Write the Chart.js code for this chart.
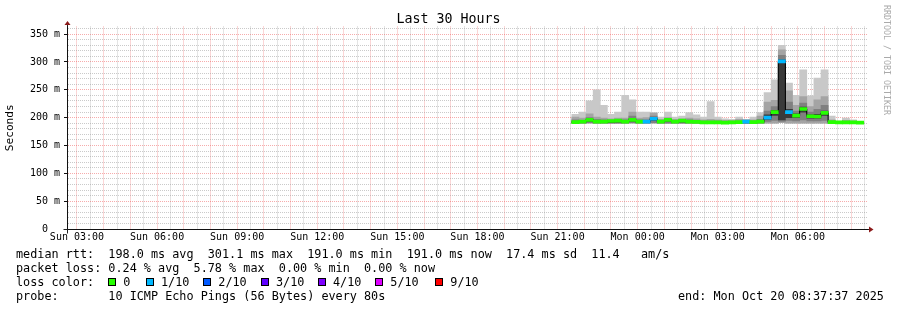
<!DOCTYPE html>
<html>
<head>
<meta charset="utf-8">
<script src="https://cdn.jsdelivr.net/npm/chart.js@4.4.1/dist/chart.umd.min.js"></script>
<style>
  body { margin: 0; background: #fff; }
  #wrap { position: relative; width: 897px; height: 310px; font-family: 'DejaVu Sans Mono', monospace; color: #000; overflow: hidden; }
  #chart { position: absolute; left: 0; top: 0; }
  .title { position: absolute; left: 0; top: 11.4px; width: 897px; text-align: center; font-size: 13.3px; line-height: 16px; }
  .mark { position: absolute; left: 883px; top: 5px; font-size: 8.3px; line-height: 8px; color: #aaa; writing-mode: vertical-rl; white-space: pre; }
  .row { position: absolute; font-size: 11.8px; line-height: 14px; white-space: pre; }
  .sq { position: absolute; top: 278px; width: 6px; height: 6px; border: 1px solid #000; }
</style>
</head>
<body>
<div id="wrap">
  <canvas id="chart" width="897" height="310"></canvas>
  <div class="title">Last 30 Hours</div>
  <div class="mark">RRDTOOL / TOBI OETIKER</div>
  <div class="row" style="left:16px;top:247.4px">median rtt:  198.0 ms avg  301.1 ms max  191.0 ms min  191.0 ms now  17.4 ms sd  11.4   am/s</div>
  <div class="row" style="left:16px;top:261.4px">packet loss: 0.24 % avg  5.78 % max  0.00 % min  0.00 % now</div>
  <div class="row" style="left:16px;top:275.4px">loss color:</div>
  <div id="lossLegend"></div>
  <div class="row" style="left:16px;top:289.4px">probe:       10 ICMP Echo Pings (56 Bytes) every 80s</div>
  <div class="row" style="left:678px;top:289.4px">end: Mon Oct 20 08:37:37 2025</div>
</div>
<script>
// time window (hours counted from Sun 00:00)
const X_MIN = 'Sun 02:37:37';
const X_MAX = 'Mon 08:37:37';
const STEP_MIN = 16;

// start of each consolidated step
const barTimes = ['Sun 21:32','Sun 21:48','Sun 22:04','Sun 22:20','Sun 22:36','Sun 22:52','Sun 23:08','Sun 23:24','Sun 23:40','Sun 23:56',
  'Mon 00:12','Mon 00:28','Mon 00:44','Mon 01:00','Mon 01:16','Mon 01:32','Mon 01:48','Mon 02:04','Mon 02:20','Mon 02:36',
  'Mon 02:52','Mon 03:08','Mon 03:24','Mon 03:40','Mon 03:56','Mon 04:12','Mon 04:28','Mon 04:44','Mon 05:00','Mon 05:16',
  'Mon 05:32','Mon 05:48','Mon 06:04','Mon 06:20','Mon 06:36','Mon 06:52','Mon 07:08','Mon 07:24','Mon 07:40','Mon 07:56','Mon 08:12'];

// smoke (ms): four bands from lightest (outer) to darkest (inner)
const smokeLow = [190,190,190,190,190,190,190,190,190,190, 190,190,190,190,190,190,190,190,189,189,
  189,189,189,189,189,189,190,190,190,191, 190,190,190,190,190,190,189,190,189,189,190];
const smokeTop1 = [206,210,230,250,222,206,210,240,232,210, 210,209,201,210,201,203,209,205,201,229,
  201,198,197,201,197,201,209,245,268,330, 262,240,286,239,271,286,203,194,199,196,193];
const smokeTop2 = [201,199,207,201,199,198,199,199,210,199, 200,208,197,200,197,198,199,198,196,197,
  196,195,195,197,196,196,203,228,231,322, 248,222,238,220,232,238,196,193,195,194,192];
const smokeLow3 = [190,190,191,190,190,190,190,190,191,190, 190,191,190,190,190,190,190,190,189,189,
  189,189,189,189,189,189,190,193,195,193, 195,194,196,194,194,195,189,190,189,189,190];
const smokeTop3 = [196,195,200,197,196,195,196,196,203,196, 196,203,195,197,195,196,196,195,194,194,
  194,193,193,194,194,194,197,212,220,312, 228,212,226,210,215,222,194,192,193,193,192];
const smokeLow4 = [191,191,193,191,191,191,192,191,193,191, 191,195,191,193,191,192,191,191,190,190,
  190,190,190,190,191,190,191,197,204,196, 200,200,210,199,199,204,190,190,190,190,190];
const smokeTop4 = [193,193,197,194,194,194,194,194,198,194, 194,199,194,196,194,195,194,193,192,192,
  192,192,192,192,193,193,194,205,213,304, 215,207,219,205,206,212,193,192,192,192,192];

const medianRtt = [192,193,196,193,193,194,194.5,193,196,193, 193,198,193,196,193,194.5,193,192.5,191.5,191.5,
  191.5,191,191.5,192,193,192,193,200,210,301, 210,203.5,215.5,202.5,202,208.5,192,191.5,191.5,191.5,191];
// lost pings out of 10
const lossTenths = [0,0,0,0,0,0,0,0,0,0, 1,1,0,0,0,0,0,0,0,0,
  0,0,0,0,1,0,0,1,0,1, 1,0,0,0,0,0,0,0,0,0,0];

const lossLevels = ['0', '1/10', '2/10', '3/10', '4/10', '5/10', '9/10'];
const lossColors = ['#26ff00', '#00b8ff', '#0059ff', '#5e00ff', '#7e00ff', '#dd00ff', '#ff0000'];

const xLabelTimes = ['Sun 03:00','Sun 06:00','Sun 09:00','Sun 12:00','Sun 15:00','Sun 18:00','Sun 21:00','Mon 00:00','Mon 03:00','Mon 06:00'];
const yLabelValues = [0, 50, 100, 150, 200, 250, 300, 350];
const yLabels = ['0  ', '50 m', '100 m', '150 m', '200 m', '250 m', '300 m', '350 m'];
const Y_MAX = 363.7;

const smokeColors = ['#c8c8c8', '#a4a4a4', '#808080', '#3a3a3a'];
const MAJOR_GRID = 'rgba(235,70,70,0.45)';
const MINOR_GRID = 'rgba(150,150,150,0.5)';
const MEDIAN_HALF = 2.7;
const FONT = 'DejaVu Sans Mono';

function toHours(s) {
    const [day, time] = s.split(' ');
    const [h, m, sec = 0] = time.split(':').map(Number);
    return (day === 'Mon' ? 24 : 0) + h + m / 60 + sec / 3600;
}

const xMin = toHours(X_MIN);
const xMax = toHours(X_MAX);
const barX = barTimes.map(t => toHours(t) + STEP_MIN / 120);
const xLabelHours = xLabelTimes.map(toHours);

function smokeBand(lows, tops, color, order) {
    return {
        type: 'bar', grouped: false, order: order,
        data: barX.map((x, i) => ({x: x, y: [lows[i], tops[i]]})),
        backgroundColor: color, borderWidth: 0,
        barPercentage: 1, categoryPercentage: 1
    };
}

// loss colour legend
const legendBox = document.getElementById('lossLegend');
const squareX = [108, 145.7, 203, 260.7, 317.7, 375, 435];
lossLevels.forEach((label, i) => {
    const sq = document.createElement('span');
    sq.className = 'sq';
    sq.style.left = squareX[i] + 'px';
    sq.style.background = lossColors[i];
    legendBox.appendChild(sq);
    const txt = document.createElement('span');
    txt.className = 'row';
    txt.style.left = (squareX[i] + 15.3) + 'px';
    txt.style.top = '275.4px';
    txt.textContent = label;
    legendBox.appendChild(txt);
});

const axisArrows = {
    id: 'axisArrows',
    afterDraw(chart) {
        const {ctx, chartArea: a} = chart;
        const lx = Math.round(a.left) + 0.5;
        const by = Math.round(a.bottom) + 0.5;
        ctx.save();
        ctx.strokeStyle = '#222';
        ctx.lineWidth = 1;
        ctx.beginPath();
        ctx.moveTo(lx, a.top);
        ctx.lineTo(lx, a.top - 2);
        ctx.moveTo(lx, by);
        ctx.lineTo(lx, by + 4);
        ctx.moveTo(lx - 4, by);
        ctx.lineTo(lx, by);
        ctx.moveTo(a.right, by);
        ctx.lineTo(a.right + 1, by);
        ctx.stroke();
        ctx.fillStyle = '#8b1a1a';
        ctx.beginPath();
        ctx.moveTo(lx, a.top - 5.5);
        ctx.lineTo(lx - 3, a.top - 1.5);
        ctx.lineTo(lx + 3, a.top - 1.5);
        ctx.closePath();
        ctx.fill();
        ctx.beginPath();
        ctx.moveTo(a.right + 5.5, by);
        ctx.lineTo(a.right + 1, by - 3);
        ctx.lineTo(a.right + 1, by + 3);
        ctx.closePath();
        ctx.fill();
        ctx.restore();
    }
};

const isHourTick = (c) => c.tick !== undefined && Math.abs(c.tick.value - Math.round(c.tick.value)) < 1e-6;
const isFiftyTick = (c) => c.tick !== undefined && c.tick.value % 50 === 0;

new Chart(document.getElementById('chart'), {
    type: 'bar',
    data: {
        datasets: [
            smokeBand(smokeLow, smokeTop1, smokeColors[0], 6),
            smokeBand(smokeLow, smokeTop2, smokeColors[1], 5),
            smokeBand(smokeLow3, smokeTop3, smokeColors[2], 4),
            smokeBand(smokeLow4, smokeTop4, smokeColors[3], 3),
            {
                type: 'line', order: 2,
                data: barX.map((x, i) => ({x: x, y: medianRtt[i]})),
                borderColor: '#000', borderWidth: 1, stepped: 'middle',
                pointRadius: 0, fill: false
            },
            {
                type: 'bar', grouped: false, order: 1,
                data: barX.map((x, i) => ({x: x, y: [medianRtt[i] - MEDIAN_HALF, medianRtt[i] + MEDIAN_HALF]})),
                backgroundColor: lossTenths.map(n => lossColors[n]),
                borderWidth: 0, barPercentage: 1, categoryPercentage: 1
            }
        ]
    },
    options: {
        responsive: false,
        animation: false,
        devicePixelRatio: 1,
        layout: {padding: {top: 26.5, right: 29, left: 0, bottom: 0}},
        plugins: {legend: {display: false}, tooltip: {enabled: false}},
        scales: {
            x: {
                type: 'linear', min: xMin, max: xMax, z: 1, offset: false,
                afterBuildTicks: (scale) => {
                    const ticks = [];
                    for (let h = Math.ceil(xMin * 2) / 2; h <= xMax; h += 0.5) ticks.push({value: h});
                    scale.ticks = ticks;
                },
                afterFit: (scale) => { scale.height = 81; },
                grid: {
                    offset: false,
                    color: (c) => isHourTick(c) ? MAJOR_GRID : MINOR_GRID,
                    lineWidth: 1, tickLength: 2, tickColor: 'rgba(0,0,0,0)'
                },
                border: {display: true, color: '#111', dash: [1, 1]},
                ticks: {
                    autoSkip: false, maxRotation: 0, padding: 0, color: '#000',
                    font: {family: FONT, size: 10},
                    callback: (v) => {
                        const i = xLabelHours.findIndex(h => Math.abs(h - v) < 1e-6);
                        return i === -1 ? '' : xLabelTimes[i];
                    }
                }
            },
            y: {
                min: 0, max: Y_MAX, z: 1,
                afterBuildTicks: (scale) => {
                    const ticks = [];
                    for (let v = 0; v <= Y_MAX; v += 10) ticks.push({value: v});
                    scale.ticks = ticks;
                },
                afterFit: (scale) => { scale.width = 67; },
                grid: {
                    color: (c) => isFiftyTick(c) ? MAJOR_GRID : MINOR_GRID,
                    lineWidth: 1, tickLength: 3,
                    tickColor: (c) => isFiftyTick(c) ? '#111' : 'rgba(0,0,0,0)'
                },
                border: {display: true, color: '#111', dash: [1, 1]},
                ticks: {
                    autoSkip: false, padding: 4, color: '#000',
                    font: {family: FONT, size: 10},
                    callback: (v) => {
                        const i = yLabelValues.indexOf(v);
                        return i === -1 ? '' : yLabels[i];
                    }
                },
                title: {
                    display: true, text: 'Seconds', color: '#000',
                    font: {family: FONT, size: 11.2},
                    padding: {top: 3, bottom: 0}
                }
            }
        }
    },
    plugins: [axisArrows]
});
</script>
</body>
</html>
